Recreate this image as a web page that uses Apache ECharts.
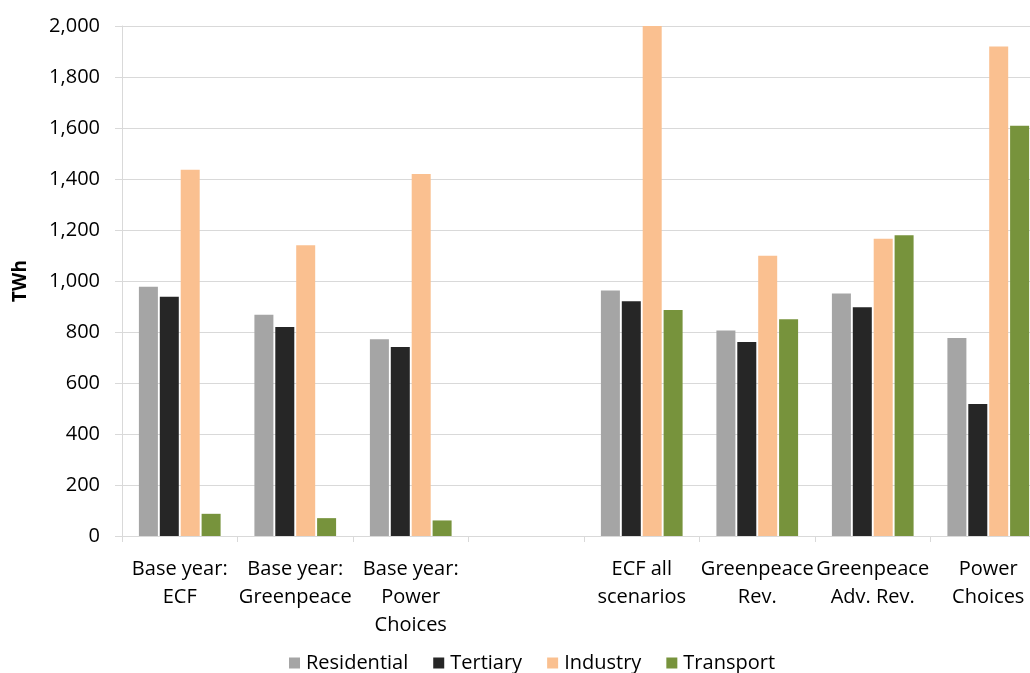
<!DOCTYPE html>
<html>
<head>
<meta charset="utf-8">
<script src="https://cdn.jsdelivr.net/npm/echarts@6/dist/echarts.min.js"></script>
<style>
  html, body { margin: 0; padding: 0; background: #ffffff; overflow: hidden; }
  #chart { width: 1046px; height: 673px; }
</style>
</head>
<body>
<div id="chart"></div>
<script>
// Electricity demand by sector (TWh): base years and 2050 scenarios
const categories = [
  'Base year:\nECF',
  'Base year:\nGreenpeace',
  'Base year:\nPower\nChoices',
  '',
  'ECF all\nscenarios',
  'Greenpeace\nRev.',
  'Greenpeace\nAdv. Rev.',
  'Power\nChoices'
];
const residential = [977, 868, 772, null, 963, 806, 951, 776];
const tertiary    = [938, 820, 741, null, 921, 761, 897, 518];
const industry    = [1436, 1140, 1420, null, 2000, 1099, 1166, 1920];
const transport   = [87, 70, 61, null, 886, 850, 1179, 1609];

const seriesNames = ['Residential', 'Tertiary', 'Industry', 'Transport'];
const seriesColors = ['#A5A5A5', '#262626', '#FAC090', '#77933C'];
const seriesData = [residential, tertiary, industry, transport];

const FONT = '"Open Sans", sans-serif';
const TEXT = '#000000';
const SIZE = 20;

const chart = echarts.init(document.getElementById('chart'), null, { renderer: 'canvas' });

chart.setOption({
  animation: false,
  backgroundColor: '#ffffff',
  textStyle: { fontFamily: FONT, color: TEXT },
  grid: { left: 122, top: 26, right: 0, bottom: 137, containLabel: false },
  legend: {
    top: 648,
    left: 284,
    icon: 'rect',
    itemWidth: 11,
    itemHeight: 11,
    itemGap: 25,
    textStyle: { fontFamily: FONT, fontSize: SIZE, color: TEXT, padding: [0, 0, 0, 1] },
    data: seriesNames
  },
  xAxis: {
    type: 'category',
    data: categories,
    axisLine: { lineStyle: { color: '#D9D9D9', width: 1 } },
    axisTick: { show: true, length: 6, lineStyle: { color: '#D9D9D9' } },
    axisLabel: {
      interval: 0,
      fontFamily: FONT,
      fontSize: SIZE,
      color: TEXT,
      lineHeight: 28,
      margin: 19
    }
  },
  yAxis: {
    type: 'value',
    min: 0,
    max: 2000,
    interval: 200,
    name: 'TWh',
    nameLocation: 'middle',
    nameGap: 92,
    nameRotate: 90,
    nameTextStyle: { fontFamily: FONT, fontSize: 19, fontWeight: 'bold', color: TEXT },
    axisLine: { show: true, lineStyle: { color: '#D9D9D9' } },
    axisTick: { show: true, length: 7, lineStyle: { color: '#D9D9D9' } },
    splitLine: { lineStyle: { color: '#D9D9D9', width: 1 } },
    axisLabel: {
      fontFamily: FONT,
      fontSize: SIZE,
      color: TEXT,
      margin: 22,
      formatter: v => v.toLocaleString('en-US')
    }
  },
  series: seriesNames.map((name, i) => ({
    name,
    type: 'bar',
    data: seriesData[i],
    barWidth: 19,
    barGap: '10%',
    itemStyle: { color: seriesColors[i] }
  }))
});
</script>
</body>
</html>
